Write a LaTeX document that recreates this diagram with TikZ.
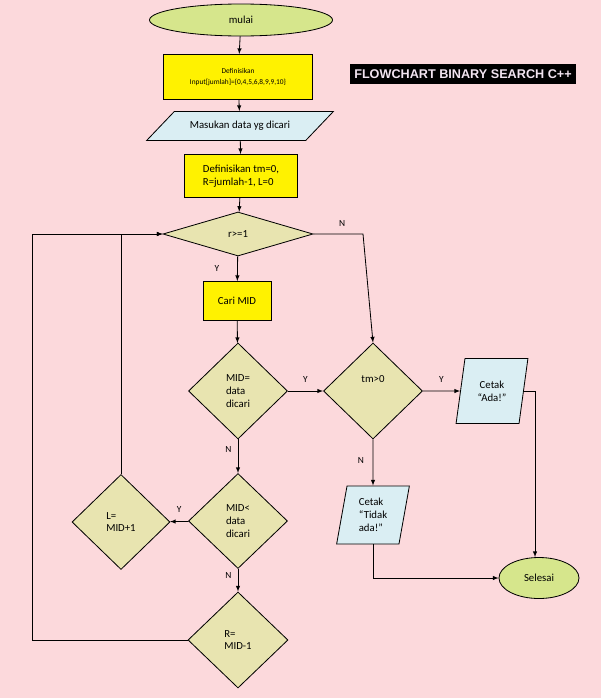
\documentclass[tikz,border=0pt]{standalone}
\usepackage{fontspec}
\setmainfont{Carlito}
\newfontfamily\titlefont{Liberation Sans}
\usetikzlibrary{shapes.geometric}

\definecolor{bgpink}{RGB}{252,217,220}
\definecolor{decfill}{RGB}{232,228,176}
\definecolor{termfill}{RGB}{214,230,140}
\definecolor{iofill}{RGB}{218,238,243}
\definecolor{titletext}{RGB}{242,228,240}

\begin{document}
\begin{tikzpicture}[x=0.03cm, y=-0.03cm, >=latex, line width=0.7pt,
    every node/.style={font=\fontsize{9.2}{11}\selectfont},
    term/.style={ellipse, draw, fill=termfill},
    procbox/.style={rectangle, draw, fill=yellow},
    iobox/.style={trapezium, draw, fill=iofill, trapezium stretches=true},
    decision/.style={diamond, draw, fill=decfill, inner sep=1pt},
    yn/.style={font=\fontsize{8}{9}\selectfont}]

        % background
        \fill[bgpink] (0,0) rectangle (601,698);

        % title
        \node[fill=black, text=titletext, font=\titlefont\bfseries\fontsize{10.8}{12}\selectfont,
            minimum width=6.78cm, minimum height=0.6cm, inner sep=0pt] (title) at (463,74) {FLOWCHART BINARY SEARCH C++};

        % main column
        \node[term, minimum width=5.49cm, minimum height=0.96cm] (mulai) at (241,20) {mulai};
        \node[procbox, minimum width=4.47cm, minimum height=1.35cm, align=center,
            font=\fontsize{6.3}{9.5}\selectfont] (def1) at (238,77) {Definisikan\\Input[jumlah]=\{0,4,5,6,8,9,9,10\}};
        \node[iobox, trapezium left angle=37, trapezium right angle=143,
            minimum width=5.61cm, minimum height=0.87cm] (input) at (240,126) {Masukan data yg dicari};
        \node[procbox, minimum width=3.39cm, minimum height=1.29cm, align=left] (def2) at (241,176) {Definisikan tm=0,\\R=jumlah-1, L=0};
        \node[decision, minimum width=4.5cm, minimum height=1.32cm] (cek) at (238,234) {r>=1};
        \node[procbox, minimum width=2.04cm, minimum height=1.17cm] (cari) at (237,301) {Cari MID};
        \node[decision, minimum width=2.97cm, minimum height=2.88cm, align=left] (sama) at (238,391) {MID=\\data\\dicari};
        \node[decision, minimum width=2.97cm, minimum height=2.85cm, align=left] (kecil) at (238,521) {MID<\\data\\dicari};
        \node[decision, minimum width=2.94cm, minimum height=2.85cm, align=left] (geserl) at (121,522) {L=\\MID+1};
        \node[decision, minimum width=3cm, minimum height=2.88cm, align=left] (geserr) at (238,640) {R=\\MID-1};

        % right side
        \node[decision, minimum width=2.97cm, minimum height=2.88cm] (tm) at (373,391) {\raisebox{20pt}{tm>0}};
        \node[iobox, trapezium left angle=78, trapezium right angle=102,
            minimum width=2.16cm, minimum height=1.95cm, align=center] (ada) at (492,391) {Cetak\\“Ada!”};
        \node[iobox, trapezium left angle=80, trapezium right angle=100,
            minimum width=2.19cm, minimum height=1.74cm, align=left] (tidak) at (373,515) {Cetak\\“Tidak\\ada!”};
        \node[term, minimum width=2.4cm, minimum height=1.23cm] (sel) at (539,578) {Selesai};

        \coordinate (cekn) at (363,234);
        \coordinate (loop) at (32,234);

        % connectors
        \draw[->] (mulai) -- (def1);
        \draw[->] (def1) -- (input);
        \draw[->] (input) -- (def2);
        \draw[->] (def2) -- (cek);
        \draw[->] (cek) -- node[yn, left=12pt] {Y} (cari);
        \draw[->] (cek.east) -- node[yn, above=3pt, xshift=0.12cm] {N} (cekn) -- (tm.north);
        \draw[->] (cari) -- (sama);
        \draw[->] (sama) -- node[yn, above=4pt] {Y} (tm);
        \draw[->] (sama) -- node[yn, left=2pt, pos=0.3] {N} (kecil);
        \draw[->] (kecil) -- node[yn, above=4pt] {Y} (geserl);
        \draw[->] (kecil) -- node[yn, left=2pt, pos=0.3] {N} (geserr);
        \draw[->] (geserl.north) |- (cek.west);
        \draw[->] (geserr.west) -| (loop) -- (cek.west);
        \draw[->] (tm) -- node[yn, above=4pt] {Y} (ada);
        \draw[->] (tm) -- node[yn, left=4pt, pos=0.45] {N} (tidak);
        \draw[->] (ada.right side) -| ([xshift=-0.12cm]sel.north);
        \draw[->] (tidak.south) |- (sel.west);
\end{tikzpicture}
\end{document}
